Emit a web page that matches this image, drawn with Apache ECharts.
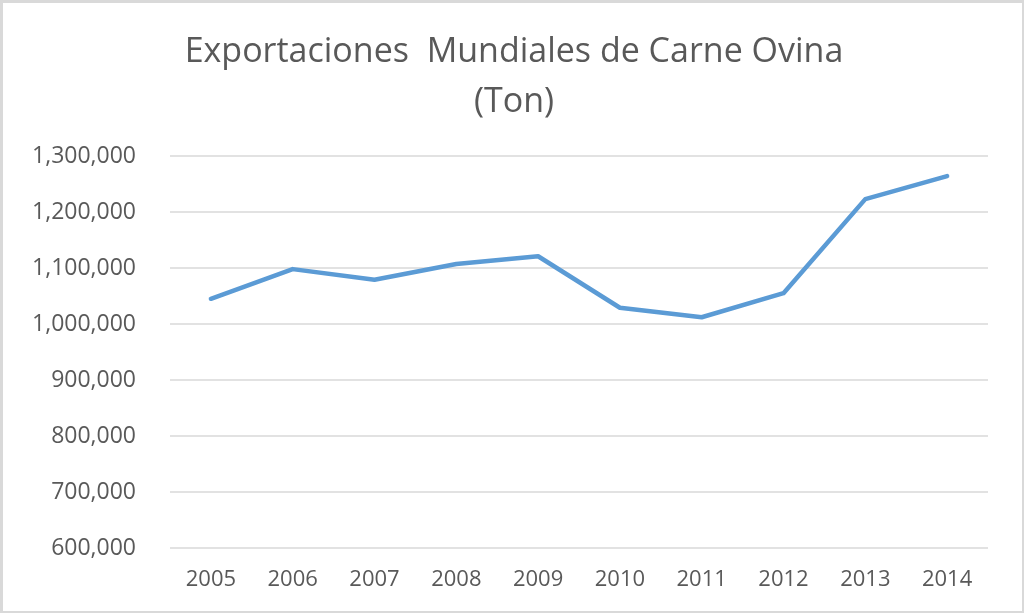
<!DOCTYPE html>
<html>
<head>
<meta charset="utf-8">
<script src="https://cdn.jsdelivr.net/npm/echarts@6/dist/echarts.min.js"></script>
<style>
html,body{margin:0;padding:0;background:#fff;}
#wrap{width:1024px;height:613px;box-sizing:border-box;border:3px solid #d9d9d9;border-right-width:2px;border-bottom-width:2px;position:relative;overflow:hidden;}
#chart{position:absolute;left:-3px;top:-3px;width:1024px;height:613px;}
</style>
</head>
<body>
<div id="wrap"><div id="chart"></div></div>
<script>
const years = ['2005','2006','2007','2008','2009','2010','2011','2012','2013','2014'];
const exportsTon = [1045000, 1098000, 1079000, 1107000, 1121000, 1029000, 1012000, 1055000, 1223000, 1264000];
const titleText = 'Exportaciones  Mundiales de Carne Ovina\n(Ton)';

const font = '"Open Sans", sans-serif';
const chart = echarts.init(document.getElementById('chart'));
chart.setOption({
  backgroundColor: 'transparent',
  animation: false,
  title: {
    text: titleText,
    left: 509,
    textAlign: 'center',
    top: 22,
    textStyle: {fontFamily: font, fontSize: 34, fontWeight: 'normal', color: '#595959', lineHeight: 50}
  },
  grid: {left: 170, right: 36, top: 156, bottom: 65, containLabel: false},
  xAxis: {
    type: 'category',
    data: years,
    boundaryGap: true,
    axisLine: {show: false},
    axisTick: {show: false},
    axisLabel: {fontFamily: font, fontSize: 22, color: '#595959', margin: 21}
  },
  yAxis: {
    type: 'value',
    min: 600000,
    max: 1300000,
    interval: 100000,
    axisLine: {show: false},
    axisTick: {show: false},
    splitLine: {lineStyle: {color: '#d9d9d9', width: 1.5}},
    axisLabel: {
      fontFamily: font, fontSize: 23, color: '#595959', margin: 34,
      formatter: v => v.toLocaleString('en-US')
    }
  },
  series: [{
    type: 'line',
    data: exportsTon,
    showSymbol: false,
    symbol: 'none',
    lineStyle: {color: '#5B9BD5', width: 4.5, cap: 'round', join: 'round'}
  }]
});
</script>
</body>
</html>
